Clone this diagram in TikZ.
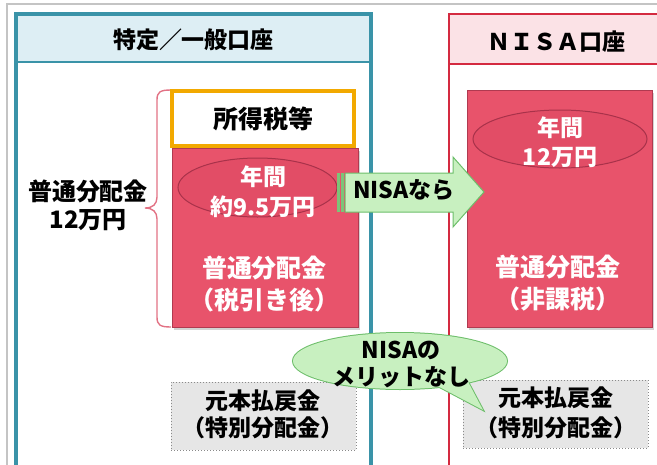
\documentclass[tikz,border=0pt]{standalone}
\usepackage{fontspec}
\setmainfont{Noto Sans CJK JP}
\usetikzlibrary{shapes.geometric,shadows}
\definecolor{framegray}{HTML}{C4C4C4}
\definecolor{tealline}{HTML}{3A93A8}
\definecolor{tealhead}{HTML}{DDEEF4}
\definecolor{redline}{HTML}{D42A40}
\definecolor{redhead}{HTML}{FBE2E6}
\definecolor{taxorange}{HTML}{F2A900}
\definecolor{boxfill}{HTML}{E8536B}
\definecolor{boxline}{HTML}{B03A50}
\definecolor{ellfill}{HTML}{E24D66}
\definecolor{ellline}{HTML}{A8324A}
\definecolor{greenfill}{HTML}{C8F0C0}
\definecolor{greenline}{HTML}{6DBE6A}
\definecolor{stripe}{HTML}{7CC478}
\definecolor{grayfill}{HTML}{E6E6E6}
\definecolor{grayline}{HTML}{8A8A8A}
\definecolor{bracecol}{HTML}{E27284}
\tikzset{
  headtext/.style={inner sep=0pt, font=\fontsize{23}{28}\selectfont\bfseries, text=black},
  redbox/.style={rectangle, draw=boxline, line width=0.8pt, fill=boxfill,
    drop shadow={shadow xshift=2pt, shadow yshift=-2.5pt, opacity=0.35}},
  pinkell/.style={ellipse, draw=ellline, line width=1pt, fill=ellfill, inner sep=0pt},
  whitetext/.style={inner sep=0pt, align=center, text=white},
  blacktext/.style={inner sep=0pt, align=center, text=black},
  graybox/.style={rectangle, fill=grayfill, draw=grayline, dotted, line width=1pt},
}
\begin{document}
\begin{tikzpicture}[x=1pt,y=-1pt]
\useasboundingbox (0,0) rectangle (657,464);
% outer frame
\draw[framegray, line width=2pt] (7,470) -- (7,4) -- (660,4);
% left panel
\fill[tealhead] (16,14) rectangle (371,62);
\draw[tealline, line width=3.5pt] (16,475) -- (16,14) -- (371,14) -- (371,475);
\draw[tealline, line width=2pt] (16,62) -- (371,62);
\node (lhead) [headtext] at (193.5,40) {特定／一般口座};
% right panel
\fill[redhead] (449,14) rectangle (670,64);
\draw[redline, line width=2.5pt] (449,475) -- (449,14) -- (670,14);
\draw[redline, line width=2pt] (449,64) -- (670,64);
\node (rhead) [headtext] at (556,42) {ＮＩＳＡ口座};
% brace
\draw[bracecol, line width=1.4pt] (171,90) .. controls (160,90) and (157,92) .. (157,100) -- (157,197)
  .. controls (157,204) and (153,208) .. (145,208) .. controls (153,208) and (157,212) .. (157,219)
  -- (157,317) .. controls (157,325) and (160,327) .. (171,327);
\node (llabel) [blacktext, font=\fontsize{24}{28}\selectfont\bfseries] at (88,205) {普通分配金\\12万円};
% left red box
\node (lbox) [redbox, minimum width=186pt, minimum height=179pt] at (265,237.5) {};
\node (tax) [draw=taxorange, line width=4pt, fill=white, minimum width=182pt, minimum height=55pt,
  inner sep=0pt, font=\fontsize{25}{30}\selectfont\bfseries] at (263,118.5) {所得税等};
\node (lell) [pinkell, minimum width=159pt, minimum height=59pt] at (257.5,187.5) {};
\node (lelltext) [whitetext, font=\fontsize{23}{30}\selectfont\bfseries] at (263,192) {年間\\約9.5万円};
\node (lboxtext) [whitetext, font=\fontsize{25}{32}\selectfont\bfseries] at (264.5,284) {普通分配金\\（税引き後）};
% right red box
\node (rbox) [redbox, minimum width=185pt, minimum height=237pt] at (559.5,208.5) {};
\node (rell) [pinkell, minimum width=174pt, minimum height=58pt] at (560,139) {};
\node (relltext) [whitetext, font=\fontsize{23}{29}\selectfont\bfseries] at (560,142.5) {年間\\12万円};
\node (rboxtext) [whitetext, font=\fontsize{25}{32}\selectfont\bfseries] at (557.5,283.5) {普通分配金\\（非課税）};
% gray boxes
\node (lgray) [graybox, minimum width=185pt, minimum height=68pt] at (263.5,416) {};
\node (lgraytext) [blacktext, font=\fontsize{23}{27}\selectfont\bfseries] at (263,414.5) {元本払戻金\\（特別分配金）};
\node (rgray) [graybox, minimum width=185pt, minimum height=68pt] at (555.5,414) {};
\node (rgraytext) [blacktext, font=\fontsize{23}{30}\selectfont\bfseries] at (556,413) {元本払戻金\\（特別分配金）};
% arrow NISAなら
\fill[stripe] (337,173) rectangle (339.5,212);
\fill[stripe] (341,173) rectangle (343.5,212);
\filldraw[fill=greenfill, draw=greenline, line width=1pt]
  (345,173) -- (453,173) -- (453,157) -- (484,192) -- (453,227) -- (453,212) -- (345,212) -- cycle;
\node (arrtext) [blacktext, font=\fontsize{23}{28}\selectfont\bfseries] at (404,190) {NISAなら};
% speech bubble
\draw[greenline, line width=2pt] (400,361) ellipse [x radius=107, y radius=28];
\draw[greenline, line width=2pt] (432,383) -- (483,410) -- (466,378);
\fill[greenfill] (400,361) ellipse [x radius=107, y radius=28];
\fill[greenfill] (432,383) -- (483,410) -- (466,378) -- cycle;
\node (bubtext) [blacktext, font=\fontsize{23}{27}\selectfont\bfseries] at (401,364) {NISAの\\メリットなし};
\end{tikzpicture}
\end{document}
